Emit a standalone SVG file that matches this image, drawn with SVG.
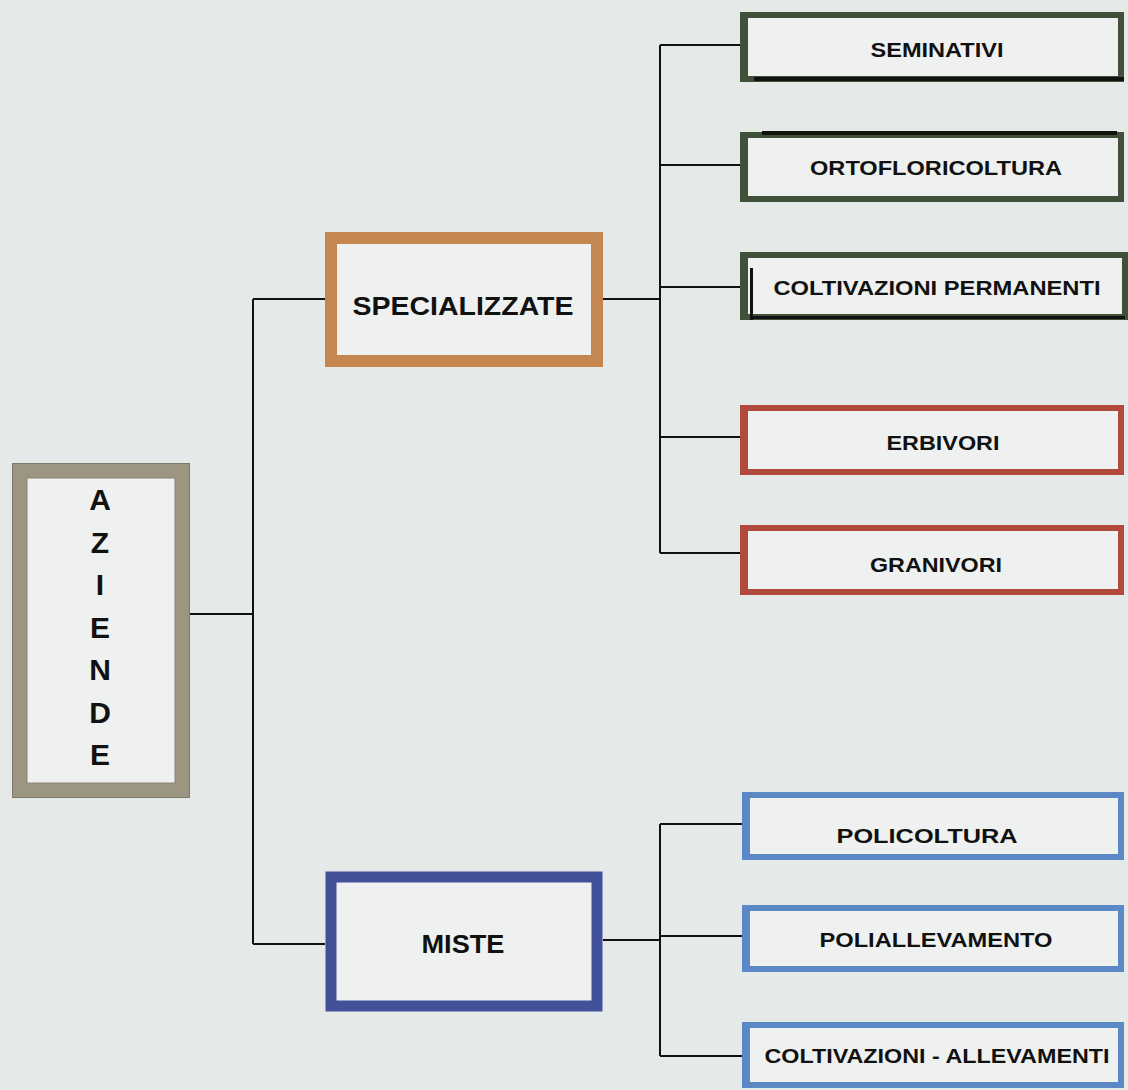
<svg xmlns="http://www.w3.org/2000/svg" width="1128" height="1090" viewBox="0 0 1128 1090">
<style>
  .lbl { font-family: "Liberation Sans", Arial, sans-serif; font-weight: bold; fill: #111; text-anchor: middle; }
  .fill { fill: #eef1f0; }
  .conn { stroke: #111; stroke-width: 2; fill: none; }
</style>
<rect x="0" y="0" width="1128" height="1090" fill="#e5e9e8"/>
<g id="connectors">
  <path class="conn" d="M190 614 H253 M253 299 V944 M253 299 H325 M253 944 H325"/>
  <path class="conn" d="M603 299 H660 M660 45 V553 M660 45 H740 M660 165 H740 M660 287 H740 M660 437 H740 M660 553 H740"/>
  <path class="conn" d="M603 940 H660 M660 824 V1056 M660 824 H742 M660 936 H742 M660 1056 H742"/>
</g>
<g id="aziende">
  <rect class="fill" x="19.5" y="470.5" width="163" height="320" stroke="#9b9582" stroke-width="15"/>
  <rect x="12.5" y="463.5" width="177" height="334" fill="none" stroke="#7d786a" stroke-width="1"/>
  <rect x="27" y="478" width="148" height="305" fill="none" stroke="#8a8574" stroke-width="1"/>
  <text class="lbl" x="100" y="510" font-size="30">A</text>
  <text class="lbl" x="100" y="552.5" font-size="30">Z</text>
  <text class="lbl" x="100" y="595" font-size="30">I</text>
  <text class="lbl" x="100" y="637.5" font-size="30">E</text>
  <text class="lbl" x="100" y="680" font-size="30">N</text>
  <text class="lbl" x="100" y="722.5" font-size="30">D</text>
  <text class="lbl" x="100" y="765" font-size="30">E</text>
</g>
<g id="specializzate">
  <rect class="fill" x="331" y="238" width="266" height="123" stroke="#c5864f" stroke-width="12"/>
  <text class="lbl" x="463" y="315" font-size="25" textLength="221" lengthAdjust="spacingAndGlyphs">SPECIALIZZATE</text>
</g>
<g id="miste">
  <rect class="fill" x="331" y="877" width="266" height="129" stroke="#42509a" stroke-width="11"/>
  <text class="lbl" x="463" y="953" font-size="25" textLength="83" lengthAdjust="spacingAndGlyphs">MISTE</text>
</g>
<g id="seminativi">
  <rect class="fill" x="743" y="15" width="378" height="64" stroke="#3f5239" stroke-width="6"/>
  <rect x="740" y="12" width="8" height="70" fill="#3f5239"/>
  <rect x="754" y="77" width="370" height="4" fill="#111"/>
  <text class="lbl" x="937" y="57" font-size="20" textLength="133" lengthAdjust="spacingAndGlyphs">SEMINATIVI</text>
</g>
<g id="ortofloricoltura">
  <rect class="fill" x="743" y="135" width="378" height="64" stroke="#3f5239" stroke-width="6"/>
  <rect x="740" y="132" width="8" height="70" fill="#3f5239"/>
  <rect x="762" y="131" width="355" height="4" fill="#111"/>
  <text class="lbl" x="936" y="175" font-size="20" textLength="252" lengthAdjust="spacingAndGlyphs">ORTOFLORICOLTURA</text>
</g>
<g id="coltivazioni-permanenti">
  <rect class="fill" x="743" y="255" width="382" height="62" stroke="#3f5239" stroke-width="6"/>
  <rect x="740" y="252" width="8" height="68" fill="#3f5239"/>
  <rect x="750" y="268" width="3" height="52" fill="#111"/>
  <rect x="752" y="316" width="373" height="3" fill="#111"/>
  <text class="lbl" x="937" y="295" font-size="20" textLength="327" lengthAdjust="spacingAndGlyphs">COLTIVAZIONI PERMANENTI</text>
</g>
<g id="erbivori">
  <rect class="fill" x="743" y="408" width="378" height="64" stroke="#b04a3b" stroke-width="6"/>
  <rect x="740" y="405" width="8" height="70" fill="#b04a3b"/>
  <text class="lbl" x="943" y="450" font-size="20" textLength="113" lengthAdjust="spacingAndGlyphs">ERBIVORI</text>
</g>
<g id="granivori">
  <rect class="fill" x="743" y="528" width="378" height="64" stroke="#b04a3b" stroke-width="6"/>
  <rect x="740" y="525" width="8" height="70" fill="#b04a3b"/>
  <text class="lbl" x="936" y="572" font-size="20" textLength="132" lengthAdjust="spacingAndGlyphs">GRANIVORI</text>
</g>
<g id="policoltura">
  <rect class="fill" x="745" y="795" width="376" height="62" stroke="#5b89c6" stroke-width="6"/>
  <rect x="742" y="792" width="8" height="68" fill="#5b89c6"/>
  <text class="lbl" x="927" y="843" font-size="20" textLength="181" lengthAdjust="spacingAndGlyphs">POLICOLTURA</text>
</g>
<g id="poliallevamento">
  <rect class="fill" x="745" y="908" width="376" height="61" stroke="#5b89c6" stroke-width="6"/>
  <rect x="742" y="905" width="8" height="67" fill="#5b89c6"/>
  <text class="lbl" x="936" y="947" font-size="20" textLength="233" lengthAdjust="spacingAndGlyphs">POLIALLEVAMENTO</text>
</g>
<g id="coltivazioni-allevamenti">
  <rect class="fill" x="745" y="1025" width="376" height="60" stroke="#5b89c6" stroke-width="6"/>
  <rect x="742" y="1022" width="8" height="66" fill="#5b89c6"/>
  <text class="lbl" x="937" y="1063" font-size="20" textLength="345" lengthAdjust="spacingAndGlyphs">COLTIVAZIONI - ALLEVAMENTI</text>
</g>
</svg>
